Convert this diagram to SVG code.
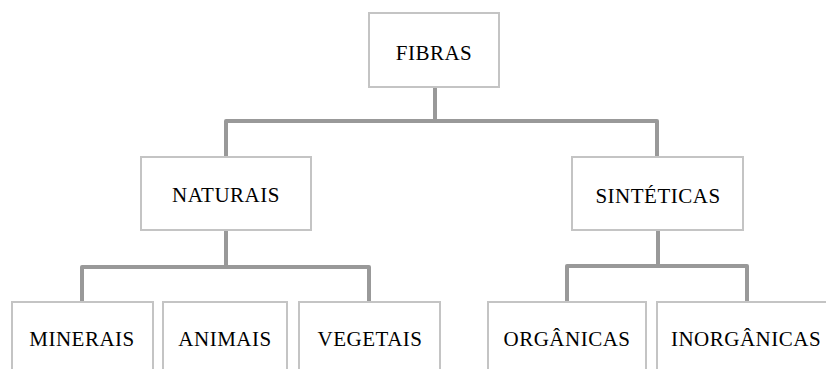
<svg xmlns="http://www.w3.org/2000/svg" width="826" height="369" viewBox="0 0 826 369">
<style>
.box{fill:#fff;stroke:#c4c4c4;stroke-width:2}
.lbl{font-family:"Liberation Serif","Times New Roman",serif;font-size:21px;letter-spacing:0.5px;fill:#000;text-anchor:middle}
.con{fill:none;stroke:#999;stroke-width:4;stroke-linejoin:round}
</style>
<rect width="826" height="369" fill="#fff"/>
<g id="connectors">
<path class="con" d="M435 87V121"/>
<path class="con" d="M226 157V121H657V157"/>
<path class="con" d="M226 230V267"/>
<path class="con" d="M82 302V267H369V302"/>
<path class="con" d="M658 230V266"/>
<path class="con" d="M567 302V266H747V302"/>
</g>
<g id="fibras"><rect class="box" x="369" y="13" width="130" height="74"/><text class="lbl" x="434" y="60">FIBRAS</text></g>
<g id="naturais"><rect class="box" x="141" y="157" width="170" height="73"/><text class="lbl" x="226" y="202">NATURAIS</text></g>
<g id="sinteticas"><rect class="box" x="572" y="157" width="171" height="73"/><text class="lbl" x="658" y="203">SINTÉTICAS</text></g>
<g id="minerais"><rect class="box" x="12" y="302" width="141" height="80"/><text class="lbl" x="82" y="346">MINERAIS</text></g>
<g id="animais"><rect class="box" x="163" y="302" width="124" height="80"/><text class="lbl" x="225" y="346">ANIMAIS</text></g>
<g id="vegetais"><rect class="box" x="299" y="302" width="141" height="80"/><text class="lbl" x="370" y="346">VEGETAIS</text></g>
<g id="organicas"><rect class="box" x="488" y="302" width="158" height="80"/><text class="lbl" x="567" y="346">ORGÂNICAS</text></g>
<g id="inorganicas"><rect class="box" x="657" y="302" width="175" height="80"/><text class="lbl" x="746" y="346">INORGÂNICAS</text></g>
</svg>
